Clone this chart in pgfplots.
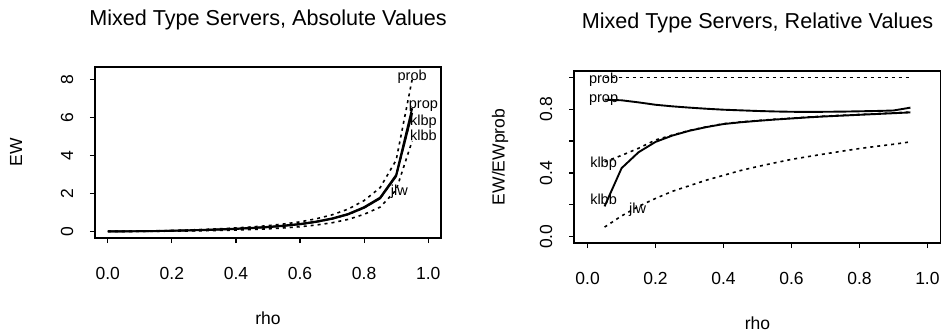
\documentclass[border=0pt]{standalone}
\usepackage{pgfplots}
\pgfplotsset{compat=1.18}
\usepackage{fontspec}
\setmainfont{Liberation Sans}
\newcommand{\tickfont}{\fontsize{17.5}{20}\selectfont}
\newcommand{\titfont}{\fontsize{21.6}{24}\selectfont}
\newcommand{\crvfont}{\fontsize{14.5}{16}\selectfont}
\pgfplotsset{
  rstyle/.style={
    scale only axis,
    anchor=south west,
    axis line style={line width=1.5pt},
    tick style={black, line width=1.2pt},
    major tick length=5pt,
    tick align=outside,
    xtick pos=bottom, ytick pos=left,
    /pgf/number format/assume math mode=true,
    tick label style={font=\tickfont},
    label style={font=\tickfont},
    title style={font=\titfont, at={(axis description cs:0.5,1)}, anchor=center},
    xtick={0,0.2,0.4,0.6,0.8,1.0},
    xticklabels={0.0,0.2,0.4,0.6,0.8,1.0},
    xticklabel style={anchor=center, yshift=-30pt},
    yticklabel style={rotate=90, anchor=center, yshift=23pt},
    xlabel style={at={(axis description cs:0.5,0)}, anchor=center},
    ylabel style={at={(axis description cs:0,0.5)}, anchor=center},
    xmin=-0.04, xmax=1.04,
    clip=false,
  },
  solidc/.style={black, line width=1.9pt},
  dotc/.style={black, line width=1.6pt, dash pattern=on 3pt off 4pt},
}
\begin{document}
\begin{tikzpicture}[x=1pt,y=1pt]
\path[use as bounding box] (0,0) rectangle (941,333);
% ---------- left: absolute values
\begin{axis}[rstyle,
  at={(95pt,95pt)}, width=346pt, height=171pt,
  ymin=-0.35, ymax=8.65,
  ytick={0,2,4,6,8}, yticklabels={0,2,4,6,8},
  title={Mixed Type Servers, Absolute Values},
  title style={yshift=41pt},
  xlabel={rho}, xlabel style={yshift=-80pt},
  ylabel={EW}, ylabel style={yshift=79pt},
]
\addplot[dotc] coordinates {(0,0) (0.05,0.003) (0.1,0.011) (0.15,0.025) (0.2,0.045) (0.25,0.07) (0.3,0.10) (0.35,0.135) (0.4,0.18) (0.45,0.235) (0.5,0.30) (0.55,0.39) (0.6,0.50) (0.65,0.66) (0.7,0.87) (0.75,1.17) (0.8,1.62) (0.85,2.3) (0.9,3.75) (0.95,8.0)};
\addplot[solidc] coordinates {(0,0) (0.05,0.0026) (0.1,0.0094) (0.15,0.021) (0.2,0.037) (0.25,0.057) (0.3,0.081) (0.35,0.108) (0.4,0.143) (0.45,0.186) (0.5,0.237) (0.55,0.307) (0.6,0.392) (0.65,0.517) (0.7,0.682) (0.75,0.918) (0.8,1.275) (0.85,1.78) (0.9,2.97) (0.95,6.48)};
\addplot[dotc] coordinates {(0,0) (0.05,0.0014) (0.1,0.0056) (0.15,0.014) (0.2,0.027) (0.25,0.044) (0.3,0.067) (0.35,0.093) (0.4,0.128) (0.45,0.170) (0.5,0.219) (0.55,0.288) (0.6,0.372) (0.65,0.496) (0.7,0.659) (0.75,0.892) (0.8,1.243) (0.85,1.74) (0.9,2.915) (0.95,6.26)};
\addplot[solidc] coordinates {(0,0) (0.05,0.0006) (0.1,0.0047) (0.15,0.013) (0.2,0.027) (0.25,0.044) (0.3,0.067) (0.35,0.093) (0.4,0.127) (0.45,0.169) (0.5,0.218) (0.55,0.287) (0.6,0.371) (0.65,0.494) (0.7,0.657) (0.75,0.889) (0.8,1.239) (0.85,1.733) (0.9,2.906) (0.95,6.24)};
\addplot[dotc] coordinates {(0,0) (0.05,0.0002) (0.1,0.0014) (0.15,0.0048) (0.2,0.011) (0.25,0.020) (0.3,0.032) (0.35,0.048) (0.4,0.069) (0.45,0.098) (0.5,0.132) (0.55,0.181) (0.6,0.243) (0.65,0.332) (0.7,0.452) (0.75,0.628) (0.8,0.896) (0.85,1.276) (0.9,2.175) (0.95,4.76)};
\node[font=\crvfont] at (axis cs:0.95,8.15) {prob};
\node[font=\crvfont] at (axis cs:0.985,6.6) {prop};
\node[font=\crvfont] at (axis cs:0.985,5.75) {klbp};
\node[font=\crvfont] at (axis cs:0.985,5.05) {klbb};
\node[font=\crvfont] at (axis cs:0.91,2.1) {jlw};
\end{axis}
% ---------- right: relative values
\begin{axis}[rstyle,
  at={(574pt,90pt)}, width=367pt, height=172pt,
  ymin=-0.04, ymax=1.04,
  ytick={0,0.2,0.4,0.6,0.8,1.0}, yticklabels={0.0,,0.4,,0.8,},
  title={Mixed Type Servers, Relative Values},
  title style={yshift=42pt},
  xlabel={rho}, xlabel style={yshift=-80pt},
  ylabel={EW/EWprob}, ylabel style={yshift=74pt},
]
\addplot[dotc] coordinates {(0.05,1) (0.1,1) (0.15,1) (0.2,1) (0.25,1) (0.3,1) (0.35,1) (0.4,1) (0.45,1) (0.5,1) (0.55,1) (0.6,1) (0.65,1) (0.7,1) (0.75,1) (0.8,1) (0.85,1) (0.9,1) (0.95,1)};
\addplot[solidc] coordinates {(0.05,0.86) (0.1,0.856) (0.15,0.843) (0.2,0.828) (0.25,0.818) (0.3,0.81) (0.35,0.803) (0.4,0.797) (0.45,0.793) (0.5,0.789) (0.55,0.786) (0.6,0.784) (0.65,0.783) (0.7,0.784) (0.75,0.785) (0.8,0.787) (0.85,0.789) (0.9,0.792) (0.95,0.81)};
\addplot[dotc] coordinates {(0.05,0.47) (0.1,0.51) (0.15,0.555) (0.2,0.607) (0.25,0.638) (0.3,0.667) (0.35,0.69) (0.4,0.709) (0.45,0.72) (0.5,0.729) (0.55,0.737) (0.6,0.744) (0.65,0.751) (0.7,0.757) (0.75,0.762) (0.8,0.767) (0.85,0.772) (0.9,0.777) (0.95,0.782)};
\addplot[solidc] coordinates {(0.05,0.19) (0.1,0.43) (0.15,0.53) (0.2,0.595) (0.25,0.635) (0.3,0.665) (0.35,0.688) (0.4,0.707) (0.45,0.718) (0.5,0.727) (0.55,0.735) (0.6,0.742) (0.65,0.749) (0.7,0.755) (0.75,0.76) (0.8,0.765) (0.85,0.77) (0.9,0.775) (0.95,0.78)};
\addplot[dotc] coordinates {(0.05,0.06) (0.1,0.13) (0.15,0.19) (0.2,0.24) (0.25,0.285) (0.3,0.32) (0.35,0.355) (0.4,0.385) (0.45,0.415) (0.5,0.44) (0.55,0.463) (0.6,0.485) (0.65,0.503) (0.7,0.52) (0.75,0.537) (0.8,0.553) (0.85,0.567) (0.9,0.58) (0.95,0.595)};
\node[font=\crvfont] at (axis cs:0.047,0.985) {prob};
\node[font=\crvfont] at (axis cs:0.047,0.856) {prop};
\node[font=\crvfont] at (axis cs:0.047,0.46) {klbp};
\node[font=\crvfont] at (axis cs:0.047,0.235) {klbb};
\node[font=\crvfont] at (axis cs:0.147,0.17) {jlw};
\end{axis}
\end{tikzpicture}
\end{document}
